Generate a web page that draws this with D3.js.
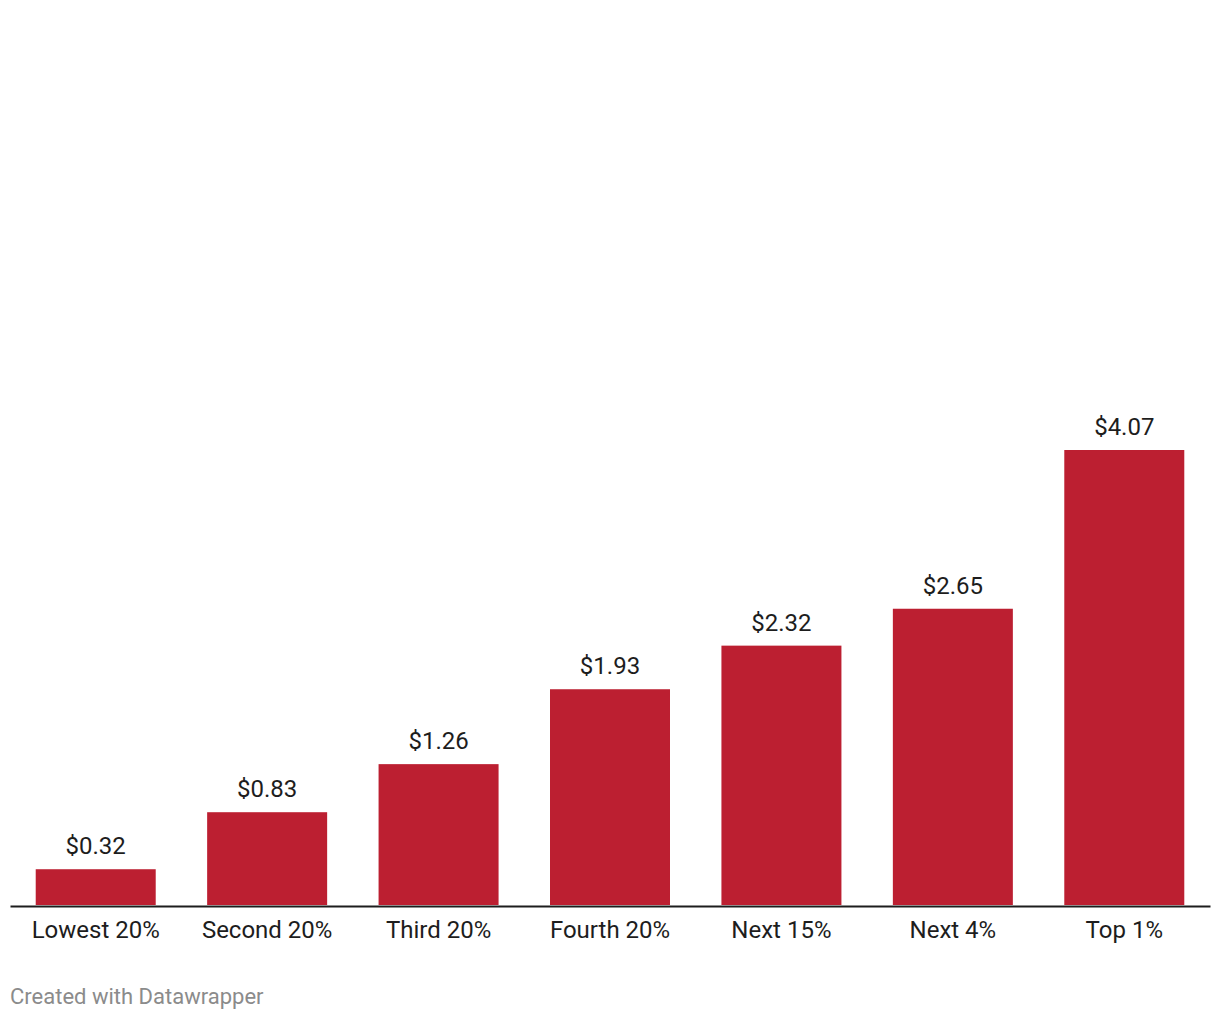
<!DOCTYPE html>
<html><head><meta charset="utf-8">
<script src="https://cdn.jsdelivr.net/npm/d3@7"></script>
<style>body{margin:0;background:#fff;} svg{display:block;font-family:Roboto,sans-serif;}</style>
</head><body>
<svg id="c" width="1220" height="1020"></svg>
<script>
const categories = ["Lowest 20%","Second 20%","Third 20%","Fourth 20%","Next 15%","Next 4%","Top 1%"];
const values = [0.32,0.83,1.26,1.93,2.32,2.65,4.07];
const valueLabels = ["$0.32","$0.83","$1.26","$1.93","$2.32","$2.65","$4.07"];

const svg = d3.select("#c");
const x = d3.scaleBand().domain(categories).range([10,1210]).paddingInner(0.3).paddingOuter(0.15);
const y = d3.scaleLinear().domain([0,4.07]).range([905,450]);

svg.selectAll("rect.bar").data(values).join("rect").attr("class","bar")
  .attr("x",(d,i)=>x(categories[i])).attr("width",x.bandwidth())
  .attr("y",d=>y(d)).attr("height",d=>y(0)-y(d)).attr("fill","#bc1f31");

svg.selectAll("text.val").data(values).join("text").attr("class","val")
  .attr("x",(d,i)=>x(categories[i])+x.bandwidth()/2).attr("y",d=>y(d)-15)
  .attr("text-anchor","middle").attr("font-size",24).attr("fill","#1d1d1d")
  .text((d,i)=>valueLabels[i]);

const ax = svg.append("g").attr("transform","translate(0,906)").call(d3.axisBottom(x).tickSize(0).tickSizeOuter(0).tickPadding(15));
ax.select(".domain").attr("stroke","#1d1d1d").attr("stroke-width",2);
ax.selectAll("text").attr("font-size",24).attr("fill","#1d1d1d").attr("font-family","Roboto,sans-serif");

svg.append("text").attr("x",10).attr("y",1004).attr("font-size",22).attr("fill","#8b8b8b").text("Created with Datawrapper");
</script>
</body></html>
